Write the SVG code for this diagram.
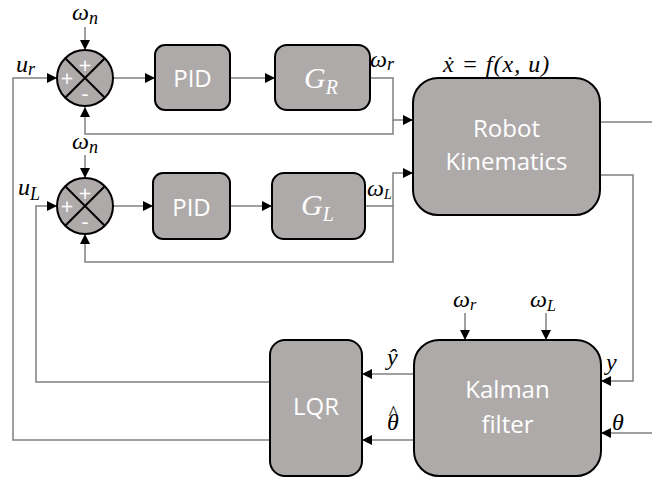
<svg xmlns="http://www.w3.org/2000/svg" width="652" height="477" viewBox="0 0 652 477">
<defs>
<marker id="arr" markerUnits="userSpaceOnUse" markerWidth="12" markerHeight="12" viewBox="0 0 12 12" refX="11" refY="6" orient="auto">
<path d="M1,1 L11,6 L1,11 Z" fill="#000"/>
</marker>
<style>
.box{fill:#aeaaaa;stroke:#000;stroke-width:2}
.lbl{font-family:"Open Sans","Liberation Sans",sans-serif;fill:#fff;text-anchor:middle;font-size:24px}
.sg{font-family:"Open Sans","Liberation Sans",sans-serif;fill:#fff;text-anchor:middle;font-size:22px}
.m{font-family:"Liberation Serif","DejaVu Serif",serif;font-style:italic;fill:#000;font-size:24px}
.mw{font-family:"Liberation Serif","DejaVu Serif",serif;font-style:italic;fill:#fff;font-size:30px}
.c{fill:none;stroke:#808080;stroke-width:1.5}
.ca{fill:none;stroke:#808080;stroke-width:1.5;marker-end:url(#arr)}
.x{stroke:#000;stroke-width:2}
</style>
</defs>
<rect width="652" height="477" fill="#fff"/>
<g id="connectors">
<path class="ca" d="M270,440 H13 V78 H57"/>
<path class="ca" d="M270,382 H36 V206 H57"/>
<path class="ca" d="M85,27 V50"/>
<path class="ca" d="M113,78 H155"/>
<path class="ca" d="M230,78 H275"/>
<path class="ca" d="M370,78 H393 V120 H413"/>
<path class="ca" d="M393,120 V134 H85 V107"/>
<path class="ca" d="M85,155 V178"/>
<path class="ca" d="M113,206 H153"/>
<path class="ca" d="M230,206 H272"/>
<path class="ca" d="M365,206 H393 V173 H413"/>
<path class="ca" d="M393,206 V262 H85 V234"/>
<path class="c" d="M600,122 H652"/>
<path class="ca" d="M600,175 H633 V381 H601"/>
<path class="ca" d="M652,433 H601"/>
<path class="ca" d="M465,313 V340"/>
<path class="ca" d="M546,313 V340"/>
<path class="ca" d="M414,374 H362"/>
<path class="ca" d="M414,440 H362"/>
</g>
<g id="sum1">
<circle cx="85" cy="78" r="28" class="box"/>
<line class="x" x1="65.2" y1="58.2" x2="104.8" y2="97.8"/>
<line class="x" x1="104.8" y1="58.2" x2="65.2" y2="97.8"/>
<text class="sg" x="85" y="73">+</text>
<text class="sg" x="67" y="86">+</text>
<text class="sg" x="85" y="101">-</text>
</g>
<g id="sum2">
<circle cx="85" cy="206" r="28" class="box"/>
<line class="x" x1="65.2" y1="186.2" x2="104.8" y2="225.8"/>
<line class="x" x1="104.8" y1="186.2" x2="65.2" y2="225.8"/>
<text class="sg" x="85" y="201">+</text>
<text class="sg" x="67" y="214">+</text>
<text class="sg" x="85" y="229">-</text>
</g>
<g id="pid1">
<rect class="box" x="155" y="45" width="75" height="65" rx="10"/>
<text class="lbl" x="192.5" y="87">PID</text>
</g>
<g id="pid2">
<rect class="box" x="153" y="173" width="77" height="66" rx="10"/>
<text class="lbl" x="191.5" y="216">PID</text>
</g>
<g id="gr">
<rect class="box" x="275" y="45" width="95" height="65" rx="12"/>
<text class="mw" x="304" y="88">G<tspan font-size="20" dy="6">R</tspan></text>
</g>
<g id="gl">
<rect class="box" x="272" y="173" width="93" height="66" rx="12"/>
<text class="mw" x="301" y="215">G<tspan font-size="20" dy="6">L</tspan></text>
</g>
<g id="robot">
<rect class="box" x="413" y="78" width="187" height="137" rx="25"/>
<text class="lbl" x="506.5" y="137">Robot</text>
<text class="lbl" x="506.5" y="170">Kinematics</text>
</g>
<g id="kalman">
<rect class="box" x="414" y="340" width="187" height="136" rx="25"/>
<text class="lbl" x="507.5" y="398">Kalman</text>
<text class="lbl" x="507.5" y="433">filter</text>
</g>
<g id="lqr">
<rect class="box" x="270" y="340" width="92" height="136" rx="15"/>
<text class="lbl" x="316" y="415">LQR</text>
</g>
<g id="labels">
<text class="m" x="72" y="20">ω<tspan font-size="18" dy="4">n</tspan></text>
<text class="m" x="72" y="149">ω<tspan font-size="18" dy="4">n</tspan></text>
<text class="m" x="16" y="72">u<tspan font-size="18" dy="3">r</tspan></text>
<text class="m" x="18" y="195">u<tspan font-size="18" dy="5">L</tspan></text>
<text class="m" x="370" y="67">ω<tspan font-size="18" dy="3">r</tspan></text>
<text class="m" x="367" y="196" font-size="19">ω<tspan font-size="14" dy="3">L</tspan></text>
<text class="m" x="443" y="72" font-size="27" letter-spacing="1">ẋ = f(x, u)</text>
<text class="m" x="453" y="307" font-size="21">ω<tspan font-size="16" dy="3">r</tspan></text>
<text class="m" x="530" y="307" font-size="21">ω<tspan font-size="16" dy="4">L</tspan></text>
<text class="m" x="387" y="365" font-size="25">ŷ</text>
<text class="m" x="387" y="430" font-size="25">θ<tspan font-size="20" dx="-10.5" dy="-10">^</tspan></text>
<text class="m" x="606" y="370" font-size="25">y</text>
<text class="m" x="612" y="430" font-size="25">θ</text>
</g>
</svg>
